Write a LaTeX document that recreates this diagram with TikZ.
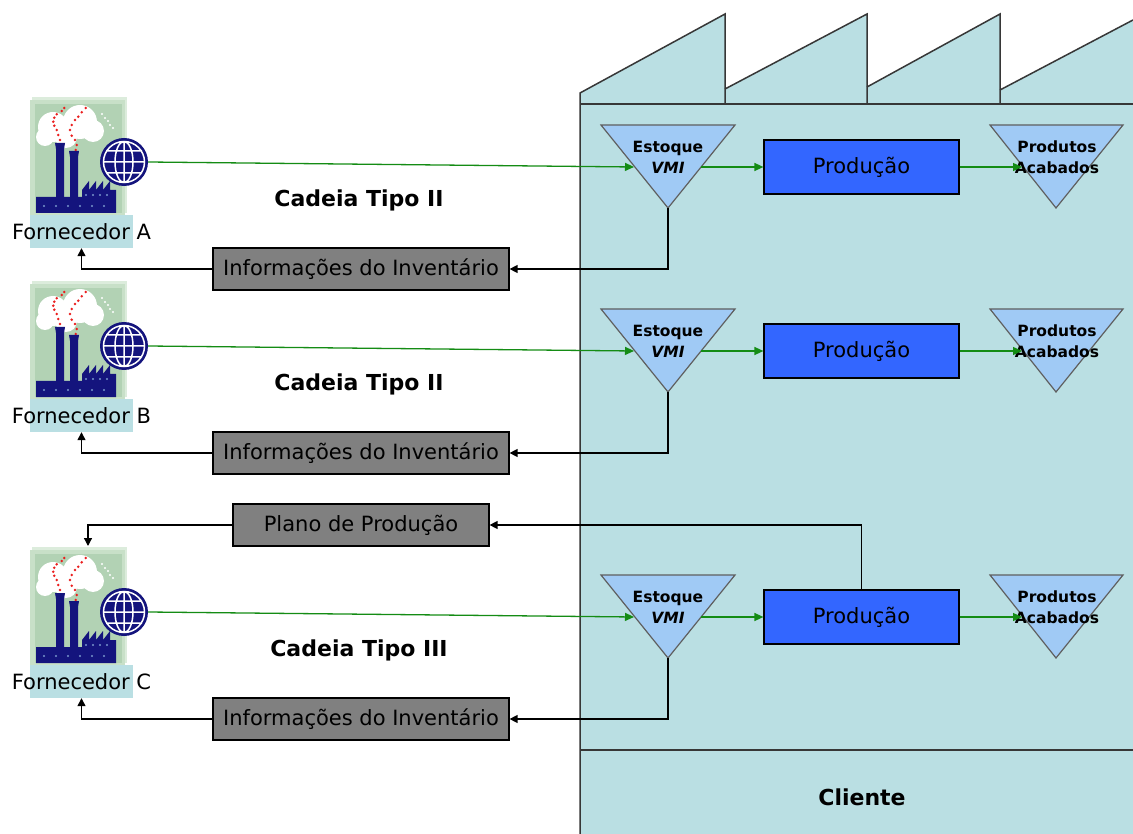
\documentclass[tikz,border=0pt]{standalone}
\usepackage{fontspec}
\setmainfont{DejaVu Sans}
\usetikzlibrary{arrows.meta,calc}

\definecolor{plant}{RGB}{186,223,227}
\definecolor{wallc}{RGB}{55,55,55}
\definecolor{trifill}{RGB}{160,202,245}
\definecolor{triedge}{RGB}{95,95,95}
\definecolor{prodblue}{RGB}{51,102,255}
\definecolor{infogray}{RGB}{128,128,128}
\definecolor{flowgreen}{RGB}{20,140,20}
\definecolor{pagea}{RGB}{220,236,220}
\definecolor{pageb}{RGB}{200,224,200}
\definecolor{panelc}{RGB}{178,210,180}
\definecolor{navy}{RGB}{20,20,125}
\definecolor{winc}{RGB}{120,150,205}
\definecolor{smoke}{RGB}{235,30,30}

\newcommand\regfont{\fontsize{21}{25}\selectfont}
\newcommand\boldlbl{\fontsize{22}{26}\selectfont\bfseries}
\newcommand\trifont{\fontsize{15.5}{21}\selectfont\bfseries}

\tikzset{
  wall/.style={draw=wallc, line width=1.5pt},
  tri/.style={fill=trifill, draw=triedge, line width=1.2pt, line join=miter},
  trilbl/.style={font=\trifont, align=center, inner sep=0pt},
  prodbox/.style={draw=black, line width=1.2pt, fill=prodblue, minimum width=195pt, minimum height=54pt, inner sep=0pt, font=\regfont},
  infobox/.style={draw=black, line width=1.2pt, fill=infogray, minimum width=296pt, minimum height=42pt, inner sep=0pt, font=\regfont},
  chainlbl/.style={font=\boldlbl, inner sep=0pt},
  fornlbl/.style={font=\regfont, inner sep=0pt, minimum height=33pt},
  globe/.style={circle, fill=navy, minimum size=48pt, inner sep=0pt},
  grnarrow/.style={draw=flowgreen, line width=1.3pt, -{Triangle[length=9pt,width=8pt]}},
  blkarrow/.style={draw=black, line width=1.3pt, -{Triangle[length=8pt,width=8pt]}},
}

\begin{document}
\begin{tikzpicture}[x=1pt,y=-1pt]
\useasboundingbox[fill=white] (0,0) rectangle (1133,834);

% the client's plant with its sawtooth roof
\fill[plant] (580,834) -- (580,93) -- (725,14) -- (725,89) -- (867,14) -- (867,87)
  -- (1000,14) -- (1000,90) -- (1133,20) -- (1133,834) -- cycle;
\draw[wall] (580,834) -- (580,93) -- (725,14) -- (725,104);
\draw[wall] (725,89) -- (867,14) -- (867,104);
\draw[wall] (867,87) -- (1000,14) -- (1000,104);
\draw[wall] (1000,90) -- (1133,20);
\draw[wall] (580,104) -- (1133,104);
\draw[wall] (580,750) -- (1133,750);
\node[chainlbl] (cliente) at (862,797) {Cliente};

\foreach \r/\dy/\tipo in {A/0/II, B/184/II, C/450/III} {
  \begin{scope}[shift={(0,\dy)}]
    % supplier icon: stacked card
    \fill[pagea] (32,97) rectangle (127,213);
    \fill[pageb] (30,100) rectangle (125,215);
    \fill[panelc] (35,104) rectangle (122,213);
    % clouds
    \fill[white] (53,127) circle (15pt) (80,122) circle (17pt) (93,131) circle (11pt)
      (66,137) circle (11pt) (45,137) circle (9pt);
    % white specks
    \foreach \p in {(102,114),(105,118),(108,121),(110,125),(113,128)}
      \fill[white] \p circle (1.2pt);
    % smoke
    \foreach \p in {(60,140),(58.3,135),(56.7,130),(54.3,125.7),(53.3,121.7),(54.3,117.7),
                    (56.7,114.3),(61.7,111),(64.3,108)}
      \fill[smoke] \p circle (1.4pt);
    \foreach \p in {(75.7,150),(76.7,145),(75,140),(71.7,135.7),(70,130),(71.7,125),
                    (75,120),(78.3,116.7),(81.7,112.3),(85.7,108)}
      \fill[smoke] \p circle (1.4pt);
    % chimneys and works
    \fill[navy] (55,143) -- (65,143) -- (64,149) -- (64,200) -- (56,200) -- (56,149) -- cycle;
    \fill[navy] (69,151) -- (79,151) -- (78,157) -- (78,200) -- (70,200) -- (70,157) -- cycle;
    \fill[navy] (36,213) -- (36,197) -- (82,197) -- (82,190) -- (89,181) -- (89,190)
      -- (96,181) -- (96,190) -- (103,181) -- (103,190) -- (110,181) -- (110,190)
      -- (116,190) -- (116,213) -- cycle;
    \foreach \x in {44,56,68,80,92,104}
      \fill[winc] (\x,206) circle (1.1pt);
    \foreach \x in {86,93,100,107}
      \fill[winc] (\x,195) circle (1.1pt);
    % globe
    \node[globe] (globe\r) at (124,162) {};
    \draw[white, line width=1.5pt] (124,162) circle (20.5pt)
      (124,162) ellipse [x radius=9pt, y radius=20.5pt]
      (124,141.5) -- (124,182.5) (103.5,162) -- (144.5,162)
      (106,151) -- (142,151) (106,173) -- (142,173);
    % name strip
    \fill[plant] (30,215) rectangle (133,248);
    \node[fornlbl] (forn\r) at (81.5,231.5) {Fornecedor \r};

    \node[chainlbl] (cad\r) at (359,200) {Cadeia Tipo \tipo};

    % VMI stock, production, finished goods
    \filldraw[tri] (601,125) -- (735,125) -- (668,208) -- cycle;
    \node[trilbl] (es\r) at (668,157) {Estoque\\\textit{VMI}};
    \coordinate (es\r-apex) at (668,208);
    \coordinate (es\r-in) at (634,167);
    \coordinate (es\r-out) at (701,167);
    \filldraw[tri] (990,125) -- (1123,125) -- (1056,208) -- cycle;
    \node[trilbl] (pa\r) at (1057,157) {Produtos\\Acabados};
    \coordinate (pa\r-in) at (1022,167);
    \node[prodbox] (prod\r) at (861.5,167) {Produção};

    \node[infobox] (info\r) at (361,269) {Informações do Inventário};
  \end{scope}

  \draw[grnarrow] (globe\r.east) -- (es\r-in);
  \draw[grnarrow] (es\r-out) -- (prod\r.west);
  \draw[grnarrow] (prod\r.east) -- (pa\r-in);
  \draw[blkarrow] (es\r-apex) |- (info\r.east);
  \draw[blkarrow] (info\r.west) -| (forn\r.south);
}

% production plan sent back to supplier C
\node[infobox, minimum width=256pt] (plano) at (361,525) {Plano de Produção};
\coordinate (cardC) at (88,546);
\draw[blkarrow] (prodC.north) |- (plano.east);
\draw[blkarrow] (plano.west) -| (cardC);
\end{tikzpicture}
\end{document}
